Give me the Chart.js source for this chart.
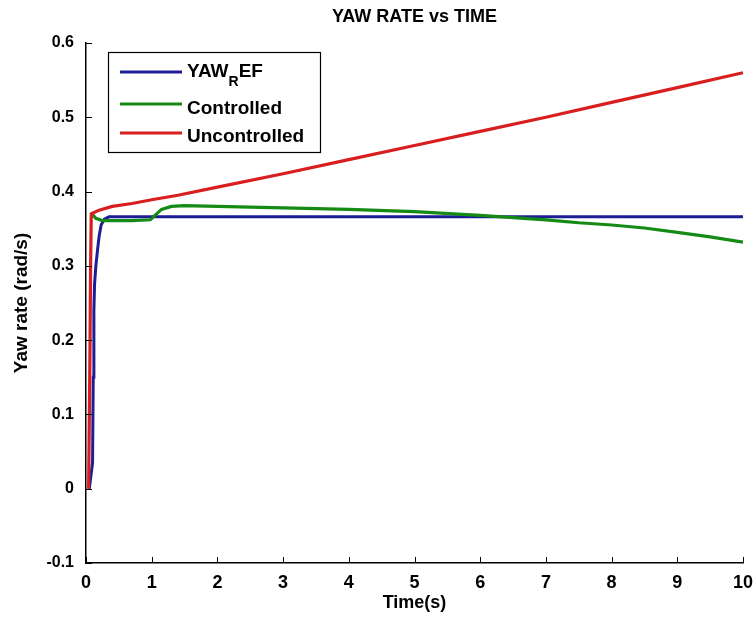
<!DOCTYPE html>
<html>
<head>
<meta charset="utf-8">
<script src="https://cdn.jsdelivr.net/npm/chart.js@4.4.0/dist/chart.umd.min.js"></script>
<style>
  html, body { margin: 0; padding: 0; background: #fff; }
  #wrap { width: 753px; height: 617px; }
</style>
</head>
<body>
<div id="wrap"><canvas id="grafik" width="753" height="617"></canvas></div>
<script>
// reference yaw rate
const timeRef = [0.05, 0.10, 0.11, 0.12, 0.13, 0.15, 0.18, 0.20, 0.23, 0.28, 0.35, 10];
const yawRef  = [0, 0.035, 0.15, 0.24, 0.275, 0.30, 0.325, 0.34, 0.355, 0.363, 0.366, 0.366];

// controlled vehicle
const timeCtrl = [0.08, 0.15, 0.25, 0.4, 0.7, 0.98, 1.05, 1.15, 1.3, 1.5, 2, 3, 4, 5, 6, 6.5, 7, 7.5, 8, 8.5, 9, 9.5, 10];
const yawCtrl  = [0.371, 0.364, 0.361, 0.361, 0.361, 0.362, 0.368, 0.376, 0.380, 0.381, 0.380, 0.378, 0.376, 0.373, 0.368, 0.365, 0.362, 0.358, 0.355, 0.351, 0.345, 0.339, 0.332];

// uncontrolled vehicle
const timeUnc = [0.04, 0.06, 0.07, 0.08, 0.2, 0.4, 0.7, 1.0, 1.4, 2, 3, 4, 5, 6, 7, 8, 9, 10];
const yawUnc  = [0, 0.18, 0.30, 0.370, 0.375, 0.380, 0.384, 0.389, 0.395, 0.406, 0.424, 0.443, 0.462, 0.481, 0.500, 0.520, 0.540, 0.560];

const legendNames = ['YAW_REF', 'Controlled', 'Uncontrolled'];
const warna = ['#1d1d96', '#158a15', '#d81e1e'];

const fontUtama = 'Liberation Sans, Arial, sans-serif';

function gabung(t, y) {
    return t.map((v, i) => ({ x: v, y: y[i] }));
}

// judul, tick ke dalam, dan legenda
const hiasan = {
    id: 'hiasan',
    afterDraw(chart) {
        const ctx = chart.ctx;
        const area = chart.chartArea;
        const sx = chart.scales.x, sy = chart.scales.y;
        ctx.save();

        ctx.fillStyle = '#000';
        ctx.font = 'bold 18px ' + fontUtama;
        ctx.textAlign = 'center';
        ctx.textBaseline = 'middle';
        ctx.fillText('YAW RATE vs TIME', (area.left + area.right) / 2, 17);

        ctx.strokeStyle = '#000';
        ctx.lineWidth = 1;
        ctx.beginPath();
        sx.ticks.forEach(t => {
            const px = Math.round(sx.getPixelForValue(t.value)) + 0.5;
            ctx.moveTo(px, area.bottom);
            ctx.lineTo(px, area.bottom - 6);
        });
        sy.ticks.forEach(t => {
            const py = Math.round(sy.getPixelForValue(t.value)) + 0.5;
            ctx.moveTo(area.left, py);
            ctx.lineTo(area.left + 6, py);
        });
        ctx.stroke();

        // legenda
        ctx.fillStyle = '#fff';
        ctx.fillRect(108, 52, 212, 100);
        ctx.strokeStyle = '#000';
        ctx.lineWidth = 1.2;
        ctx.strokeRect(108.5, 52.5, 212, 100);

        const barisGaris = [72, 104, 133];
        const barisTeks = [77, 114, 142];
        ctx.textAlign = 'left';
        ctx.textBaseline = 'alphabetic';
        legendNames.forEach((nama, i) => {
            ctx.strokeStyle = warna[i];
            ctx.lineWidth = 3;
            ctx.beginPath();
            ctx.moveTo(120, barisGaris[i]);
            ctx.lineTo(182, barisGaris[i]);
            ctx.stroke();

            ctx.fillStyle = '#000';
            ctx.font = 'bold 19px ' + fontUtama;
            if (nama.includes('_')) {
                // subscript R
                let x = 187;
                ctx.fillText('YAW', x, barisTeks[i]);
                x += ctx.measureText('YAW').width;
                ctx.font = 'bold 14px ' + fontUtama;
                ctx.fillText('R', x, barisTeks[i] + 9);
                x += ctx.measureText('R').width;
                ctx.font = 'bold 19px ' + fontUtama;
                ctx.fillText('EF', x, barisTeks[i]);
            } else {
                ctx.fillText(nama, 187, barisTeks[i]);
            }
        });
        ctx.restore();
    }
};

new Chart(document.getElementById('grafik'), {
    type: 'line',
    data: {
        datasets: [
            { label: 'YAW_REF', data: gabung(timeRef, yawRef), borderColor: warna[0], borderWidth: 3, order: 3 },
            { label: 'Controlled', data: gabung(timeCtrl, yawCtrl), borderColor: warna[1], borderWidth: 3.2, order: 2 },
            { label: 'Uncontrolled', data: gabung(timeUnc, yawUnc), borderColor: warna[2], borderWidth: 3.2, order: 1 }
        ]
    },
    options: {
        responsive: false,
        animation: false,
        layout: { padding: { top: 43, right: 10, left: 0, bottom: 0 } },
        elements: { point: { radius: 0 }, line: { tension: 0, fill: false } },
        plugins: { legend: { display: false }, title: { display: false }, tooltip: { enabled: false } },
        scales: {
            x: {
                type: 'linear',
                min: 0, max: 10,
                grid: { display: false, drawTicks: false },
                border: { display: true, color: '#000', width: 1.5 },
                ticks: { stepSize: 1, color: '#000', padding: 9, font: { family: fontUtama, size: 18, weight: 'bold' } },
                title: { display: true, text: 'Time(s)', color: '#000', padding: { top: 0, bottom: 3 }, font: { family: fontUtama, size: 18, weight: 'bold' } },
                afterFit(s) { s.height = 54; s.paddingLeft = 0; s.paddingRight = 0; }
            },
            y: {
                type: 'linear',
                min: -0.1, max: 0.6,
                grid: { display: false, drawTicks: false },
                border: { display: true, color: '#000', width: 1.5 },
                ticks: {
                    stepSize: 0.1, color: '#000', padding: 12,
                    font: { family: fontUtama, size: 16, weight: 'bold' },
                    callback: v => String(parseFloat(v.toFixed(1)))
                },
                title: { display: true, text: 'Yaw rate (rad/s)', color: '#000', padding: { top: 10, bottom: 0 }, font: { family: fontUtama, size: 19, weight: 'bold' } },
                afterFit(s) { s.width = 86; s.paddingTop = 0; s.paddingBottom = 0; }
            }
        }
    },
    plugins: [hiasan]
});
</script>
</body>
</html>
